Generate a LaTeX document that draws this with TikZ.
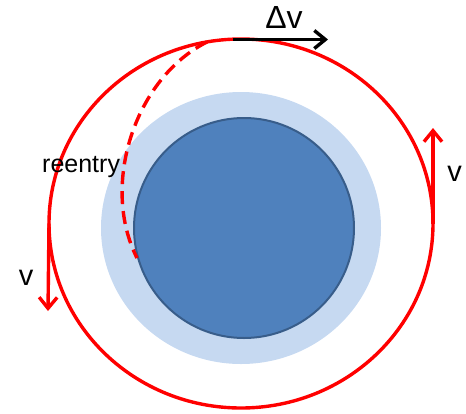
\documentclass[tikz,border=0pt]{standalone}
\usepackage{fontspec}
\setmainfont{Liberation Sans}
\usetikzlibrary{arrows.meta,positioning}
\definecolor{orbitred}{RGB}{255,0,0}
\definecolor{earthblue}{RGB}{79,129,189}
\definecolor{earthedge}{RGB}{56,93,138}
\definecolor{airblue}{RGB}{198,217,241}
\tikzset{
  orbit/.style={line width=3.4pt, draw=orbitred},
  reentrypath/.style={orbit, dash pattern=on 13pt off 7pt},
  velocity/.style={line width=3.4pt, draw=orbitred, -{Straight Barb[length=11pt,width=18pt]}},
  kick/.style={line width=3.4pt, draw=black, -{Straight Barb[length=11pt,width=18pt]}},
  lbl/.style={inner sep=0pt, anchor=base, font=\fontsize{29}{31}\selectfont},
}

\begin{document}
\begin{tikzpicture}[x=1pt,y=-1pt]
  \useasboundingbox (0,0) rectangle (466,413);
  % atmosphere and earth
  \fill[airblue] (241,228) ellipse [x radius=140, y radius=136];
  \filldraw[fill=earthblue, draw=earthedge, line width=2pt] (244,228) circle [radius=110];
  % reentry path
  \coordinate (R0) at (207,42);
  \coordinate (R1) at (137,258);
  \draw[reentrypath] (R0) .. controls (135,78) and (100,185) .. (R1);
  % orbit
  \draw[orbit] (241,223.5) ellipse [x radius=192, y radius=184.5];
  \coordinate (L0) at (49,223.5);
  \coordinate (L1) at (48,311);
  \coordinate (E0) at (433,223.5);
  \coordinate (E1) at (433,128);
  \draw[velocity] (L0) -- (L1);
  \draw[velocity] (E0) -- (E1);
  \coordinate (D0) at (233,39.5);
  \coordinate (D1) at (328,39.5);
  \draw[kick] (D0) -- (D1);
  % labels
  \node[lbl, font=\fontsize{32}{34}\selectfont] (dv) at (284,28) {Δv};
  \node[lbl] (vl) at (26,285) {v};
  \node[lbl] (vr) at (454.5,181) {v};
  \node[inner sep=0pt, anchor=base west, font=\fontsize{25}{27}\selectfont] (re) at (42,172) {reentry};
\end{tikzpicture}
\end{document}
